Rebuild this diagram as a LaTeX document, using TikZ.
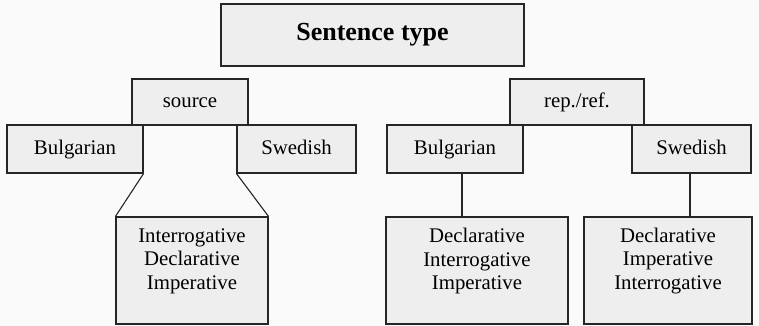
\documentclass[tikz,border=0pt]{standalone}
\usepackage{fontspec}
\setmainfont{Liberation Serif}
\begin{document}
\begin{tikzpicture}[x=1pt,y=-1pt,
  box/.style={draw=black!85, line width=1.1pt, fill=gray!13, inner sep=0pt},
  txt/.style={font=\fontsize{20.8}{23.5}\selectfont, inner sep=0pt, align=center},
  one/.style={txt, text height=14.5pt, text depth=4.5pt},
  conn/.style={draw=black!85, line width=1.1pt}]
\fill[gray!4] (0,0) rectangle (759,326);
\useasboundingbox (0,0) rectangle (759,326);
% title
\node[box, minimum width=303pt, minimum height=62pt] (title) at (372.5,35) {};
\node[txt, font=\fontsize{26}{30}\selectfont\bfseries] (titletxt) at (title.center) {Sentence type};
% source side
\node[box, minimum width=116pt, minimum height=46pt] (src) at (190,102) {};
\node[one] (srctxt) at (src.center) {source};
\node[box, minimum width=136pt, minimum height=48pt] (bulL) at (75,149) {};
\node[one] (bulLtxt) at (bulL.center) {Bulgarian};
\node[box, minimum width=119pt, minimum height=48pt] (sweL) at (296.5,149) {};
\node[one] (sweLtxt) at (sweL.center) {Swedish};
\node[box, minimum width=152pt, minimum height=107pt] (botL) at (192,270.5) {};
\node[txt] (botLtxt) at ([yshift=9.5pt]botL.center) {Interrogative\\Declarative\\Imperative};
% rep/ref side
\node[box, minimum width=134pt, minimum height=46pt] (rep) at (577,102) {};
\node[one] (reptxt) at (rep.center) {rep./ref.};
\node[box, minimum width=136pt, minimum height=48pt] (bulR) at (455,149) {};
\node[one] (bulRtxt) at (bulR.center) {Bulgarian};
\node[box, minimum width=119pt, minimum height=48pt] (sweR) at (691.5,149) {};
\node[one] (sweRtxt) at (sweR.center) {Swedish};
\node[box, minimum width=182pt, minimum height=107pt] (botM) at (477,270.5) {};
\node[txt] (botMtxt) at ([yshift=9.5pt]botM.center) {Declarative\\Interrogative\\Imperative};
\node[box, minimum width=168pt, minimum height=107pt] (botR) at (668,270.5) {};
\node[txt] (botRtxt) at ([yshift=9.5pt]botR.center) {Declarative\\Imperative\\Interrogative};
% connectors
\draw[conn] (bulL.south east) -- (botL.north west);
\draw[conn] (sweL.south west) -- (botL.north east);
\draw[conn] ([xshift=7pt]bulR.south) -- ([xshift=7pt]bulR.south |- botM.north);
\draw[conn] ([xshift=-1.5pt]sweR.south) -- ([xshift=-1.5pt]sweR.south |- botR.north);
\end{tikzpicture}
\end{document}
